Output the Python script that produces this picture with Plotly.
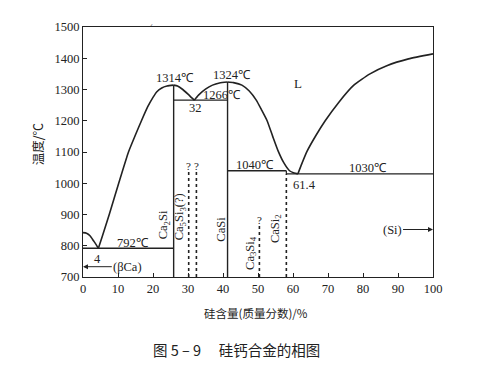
import plotly.graph_objects as go

# ---- data ----
ca_side_x = [0, 1, 2, 3, 3.8, 4.4]
ca_side_t = [842, 840, 832, 816, 803, 792]

liq1_x = [4.4, 5.5, 7.5, 10.2, 13, 15, 16.7, 18.5, 20, 21.1, 22.5, 24, 25.9]
liq1_t = [792, 830, 900, 1000, 1100, 1155, 1200, 1245, 1275, 1293, 1305, 1311, 1314]

liq2_x = [25.9, 27, 28.5, 30, 31, 31.8]
liq2_t = [1314, 1311, 1300, 1285, 1274, 1266]

liq3_x = [31.8, 33, 35, 37, 39, 41.3]
liq3_t = [1266, 1282, 1301, 1314, 1321, 1324]

liq4_x = [41.3, 43, 45.4, 47.5, 49.5, 51, 52.6, 54.2, 55.8, 57.4, 59, 60.3, 61.4]
liq4_t = [1324, 1322, 1314, 1295, 1266, 1235, 1200, 1150, 1102, 1065, 1040, 1033, 1030]

liq5_x = [61.4, 62.5, 64, 66.5, 69.2, 73, 77.3, 82, 86.8, 93, 100]
liq5_t = [1030, 1062, 1102, 1152, 1200, 1258, 1313, 1350, 1376, 1398, 1414]

# invariant lines: (x0, x1, T)
horiz = [(0, 25.9, 792), (25.9, 41.3, 1266), (41.3, 58.1, 1040), (58.1, 100, 1030)]
# compound lines: (x, Tbottom, Ttop)
solid_vert = [(25.9, 700, 1314), (41.3, 700, 1324)]
dotted_vert = [(30.2, 700, 1038), (32.4, 700, 1038), (50.4, 700, 865), (58.1, 700, 1030)]

x_ticks = [0, 10, 20, 30, 40, 50, 60, 70, 80, 90, 100]
y_ticks = [700, 800, 900, 1000, 1100, 1200, 1300, 1400, 1500]

FONT = "Liberation Serif"
CJK = "Noto Sans CJK SC"
LC = "#222222"

fig = go.Figure()

def add_line(xs, ys, width=1.6, dash="solid", smooth=False):
    line = dict(color=LC, width=width, dash=dash)
    if smooth:
        line.update(shape="spline", smoothing=0.5)
    fig.add_trace(go.Scatter(x=xs, y=ys, mode="lines", line=line,
                             hoverinfo="skip", showlegend=False))

for xs, ys in [(ca_side_x, ca_side_t), (liq1_x, liq1_t), (liq2_x, liq2_t),
               (liq3_x, liq3_t), (liq4_x, liq4_t), (liq5_x, liq5_t)]:
    add_line(xs, ys, smooth=True)

for x0, x1, t in horiz:
    add_line([x0, x1], [t, t], width=1.4)
# tiny step at the peritectic
add_line([58.1, 58.1], [1040, 1030], width=1.2)
for x, t0, t1 in solid_vert:
    add_line([x, x], [t0, t1], width=1.4)
for x, t0, t1 in dotted_vert:
    add_line([x, x], [t0, t1], width=1.6, dash="dot")

def txt(x, y, s, size=12.5, angle=0, xanchor="center", font=FONT, xref="x", yref="y"):
    fig.add_annotation(x=x, y=y, text=s, showarrow=False, textangle=angle, xref=xref, yref=yref,
                       xanchor=xanchor, yanchor="middle",
                       font=dict(family=font, size=size, color=LC))

txt(26.3, 1338, "1314℃")
txt(42.6, 1348, "1324℃")
txt(39.6, 1283, "1266℃")
txt(32.1, 1240, "32")
txt(49.2, 1057, "1040℃")
txt(81.5, 1048, "1030℃")
txt(63.2, 995, "61.4")
txt(100.3, 1436, "1414℃", xanchor="right")
txt(61.5, 1318, "L", size=13)
txt(14.2, 810, "792℃")
txt(4.0, 758, "4")
txt(-1.2, 842, "842℃", xanchor="right")
txt(30.2, 1054, "?", size=11)
txt(32.4, 1054, "?", size=11)
txt(50.4, 882, "?", size=11)

txt(23.2, 866, "Ca<sub>2</sub>Si", angle=-90)
txt(27.6, 893, "Ca<sub>5</sub>Si<sub>3</sub>(?)", angle=-90)
txt(39.2, 852, "CaSi", angle=-90)
txt(47.8, 778, "Ca<sub>3</sub>Si<sub>4</sub>", angle=-90)
txt(55.1, 856, "CaSi<sub>2</sub>", angle=-90)

# arrows
fig.add_annotation(x=0, y=733, ax=12.8, ay=733, axref="x", ayref="y", text="(βCa)",
                   showarrow=True, arrowhead=2, arrowsize=1, arrowwidth=1, arrowcolor=LC,
                   font=dict(family=FONT, size=12.5, color=LC))
fig.add_annotation(x=100, y=852, ax=88.3, ay=852, axref="x", ayref="y", text="(Si)",
                   showarrow=True, arrowhead=2, arrowsize=1, arrowwidth=1, arrowcolor=LC,
                   font=dict(family=FONT, size=12.5, color=LC))

# element labels under the axis
txt(0, 622, "Ca", size=13)
txt(100, 622, "Si", size=13)

# axis titles and caption (paper coords)
fig.add_annotation(x=0.494, y=-0.142, xref="paper", yref="paper", text="硅含量(质量分数)/%",
                   showarrow=False, font=dict(family=CJK, size=11.5, color=LC), xanchor="center", yanchor="middle")
fig.add_annotation(x=-0.129, y=0.53, xref="paper", yref="paper", text="温度/℃", textangle=-90,
                   showarrow=False, font=dict(family=CJK, size=12.5, color=LC), xanchor="center", yanchor="middle")
fig.add_annotation(x=0.439, y=-0.289, xref="paper", yref="paper", text="图 5 – 9　 硅钙合金的相图",
                   showarrow=False, font=dict(family=CJK, size=14.5, color=LC), xanchor="center", yanchor="middle")
fig.add_annotation(x=0.186, y=1.024, xref="paper", yref="paper", text="ˊ",
                   showarrow=False, font=dict(family=FONT, size=9, color="#555"))

fig.update_xaxes(range=[0, 100], tickvals=x_ticks, ticks="inside", ticklen=4, tickcolor=LC,
                 showline=True, linecolor=LC, linewidth=1.2, mirror=True, showgrid=False, zeroline=False,
                 tickfont=dict(family=FONT, size=12.5, color=LC))
fig.update_yaxes(range=[700, 1500], tickvals=y_ticks, ticks="inside", ticklen=4, tickcolor=LC,
                 showline=True, linecolor=LC, linewidth=1.2, mirror=True, showgrid=False, zeroline=False,
                 tickfont=dict(family=FONT, size=12.5, color=LC))

fig.update_layout(width=491, height=373, margin=dict(l=75, r=66, t=16, b=104),
                  paper_bgcolor="white", plot_bgcolor="white", showlegend=False)

fig.write_html("out.html")
